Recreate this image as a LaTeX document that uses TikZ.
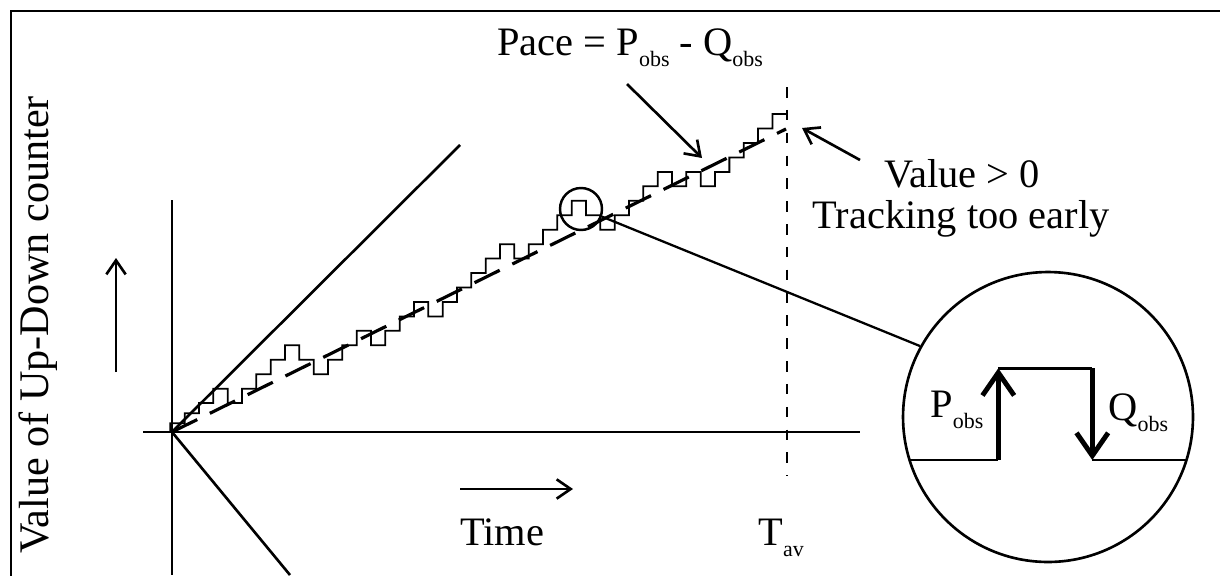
\documentclass[tikz,border=0pt]{standalone}
\usepackage{fontspec}
\setmainfont{Liberation Serif}
\usetikzlibrary{arrows.meta,positioning}
\newcommand{\lowsub}[1]{\raisebox{-6.5pt}{\fontsize{12.5}{14}\selectfont #1}}

\begin{document}
\begin{tikzpicture}[x=0.02cm,y=-0.02cm,>={Straight Barb[length=8pt,width=11pt]},
  every node/.style={inner sep=0pt,font=\fontsize{23}{26}\selectfont},
  axis/.style={line width=1.5pt},
  stairs/.style={line width=1pt},
  pacedash/.style={line width=1.8pt,dash pattern=on 16pt off 8pt},
  tavdash/.style={line width=1.2pt,dash pattern=on 6pt off 7pt},
  pulse/.style={line width=2.8pt,-{Straight Barb[length=13pt,width=18pt]}},
  note/.style={->,line width=1.5pt}]
  \useasboundingbox (0,0) rectangle (1220,575);
  \draw[line width=1.2pt] (1225,11) -- (11,11) -- (11,580);

  % axes and limits
  \coordinate (O) at (172,432);
  \draw[axis] (143,432) -- (860,432);
  \draw[axis] (172,200) -- (172,575);
  \draw[axis] (O) -- (460,145);
  \draw[axis] (O) -- (290,575);

  % counter value, pace and T_av
  \draw[stairs] (170.3,432) \foreach \lv [count=\k from 0] in
    {0.6,1.3,2,3,2,3,4,5,6,5,4,5,6,7,6,7,8,9,8,9,10,11,12,13,12,13,14,15,16,15,
     14,15,16,17,18,17,18,17,18,19,20,21,22}
    { -- (170.3+\k*14.335,432-\lv*14.45) -- (184.635+\k*14.335,432-\lv*14.45) };
  \coordinate (paceend) at (786,129);
  \draw[pacedash] (O) -- (paceend);
  \coordinate (tavtop) at (787,87);
  \coordinate (tavbot) at (787,476);
  \draw[tavdash] (tavtop) -- (tavbot);

  % labels
  \node[rotate=90,font=\fontsize{24}{27}\selectfont] (ylab) at (38,325) {Value of Up-Down counter};
  \node[anchor=base west] (pace) at (497,55) {Pace = P\lowsub{obs} - Q\lowsub{obs}};
  \node[anchor=base] (val) at (962,187) {Value > 0};
  \node[anchor=base] (trk) at (961,228) {Tracking too early};
  \node[anchor=base west] (time) at (460,545) {Time};
  \node[anchor=base west] (tav) at (758,545) {T\lowsub{av}};

  % pointers
  \coordinate (pacefrom) at (627,84);
  \coordinate (paceto) at (702,158);
  \coordinate (valfrom) at (860,160);
  \coordinate (valto) at (802,128);
  \coordinate (upfrom) at (116,372);
  \coordinate (upto) at (116,258);
  \coordinate (timefrom) at (460,489);
  \coordinate (timeto) at (573,489);
  \foreach \u/\v in {pacefrom/paceto,valfrom/valto,upfrom/upto,timefrom/timeto}
    \draw[note] (\u) -- (\v);

  % magnified pulse
  \node[draw,circle,line width=1.4pt,minimum size=0.84cm] (zoom) at (581,209) {};
  \node[draw,circle,line width=1.5pt,minimum size=5.8cm] (lens) at (1048,417) {};
  \draw[line width=1.3pt] (zoom.-20) -- (lens.151);
  \draw[line width=1.3pt] (909.5,460) -- (998.3,460);
  \draw[pulse] (998.3,460) -- (998.3,368.3);
  \draw[line width=1.7pt] (998.3,368.3) -- (1092.3,368.3);
  \draw[pulse] (1092.3,368.3) -- (1092.3,460);
  \draw[line width=1.3pt] (1092.3,460) -- (1186.5,460);
  \node[anchor=base west] (pob) at (930,417) {P\lowsub{obs}};
  \node[anchor=base west] (qob) at (1108,420) {Q\lowsub{obs}};
\end{tikzpicture}
\end{document}
